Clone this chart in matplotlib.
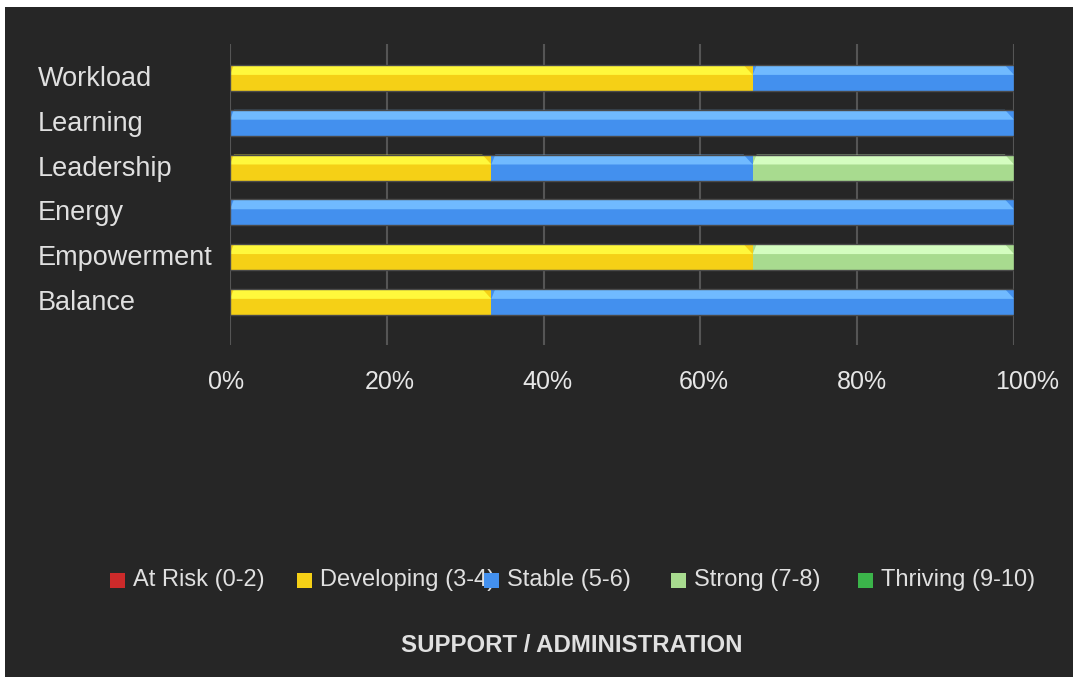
import matplotlib
matplotlib.use("Agg")
import matplotlib.pyplot as plt
from matplotlib.patches import Rectangle, Polygon
from matplotlib.transforms import ScaledTranslation
import numpy as np

plt.rcParams['font.family'] = ['Liberation Sans', 'DejaVu Sans']

# Responses per dimension (3 respondents), by score band
categories = ["Workload", "Learning", "Leadership", "Energy", "Empowerment", "Balance"]
bands = ["At Risk (0-2)", "Developing (3-4)", "Stable (5-6)", "Strong (7-8)", "Thriving (9-10)"]
at_risk    = [0, 0, 0, 0, 0, 0]
developing = [2, 0, 1, 0, 2, 1]
stable     = [1, 3, 1, 3, 0, 2]
strong     = [0, 0, 1, 0, 1, 0]
thriving   = [0, 0, 0, 0, 0, 0]
x_ticks = [0, 20, 40, 60, 80, 100]
x_tick_labels = ["0%", "20%", "40%", "60%", "80%", "100%"]
title = "SUPPORT / ADMINISTRATION"

base_colors = ["#CC2A2A", "#F5D016", "#4390EE", "#A8DB8F", "#3BB44A"]
light_colors = ["#E85050", "#FFF83C", "#70BAFF", "#D4FDC0", "#6FE07A"]

W, H = 1073, 677
fig = plt.figure(figsize=(W / 100, H / 100), dpi=100, facecolor="white")
bg = "#262626"
fig.patches.append(Rectangle((5 / W, 0), 1, 1 - 7 / H, transform=fig.transFigure,
                             facecolor=bg, edgecolor="none", zorder=-10))

ax = fig.add_axes([230 / W, 1 - 345 / H, (1014 - 230) / W, (345 - 44) / H])
ax.set_facecolor("none")
for s in ax.spines.values():
    s.set_visible(False)

counts = np.array([at_risk, developing, stable, strong, thriving], dtype=float)
totals = counts.sum(axis=0)
pct = counts / totals * 100

ypos = np.arange(len(categories))
bar_h = 0.58
strip_h = 0.22
inset_l = 0.5
inset_r = 1.15

left = np.zeros(len(categories))
for bi in range(len(bands)):
    vals = pct[bi]
    ax.barh(ypos, vals, left=left, height=bar_h, color=base_colors[bi],
            edgecolor="none", zorder=3)
    for yi, (l, v) in enumerate(zip(left, vals)):
        if v <= 0:
            continue
        top = yi - bar_h / 2
        poly = Polygon([(l, top + strip_h), (l + inset_l, top), (l + v - inset_r, top),
                        (l + v, top + strip_h)], closed=True,
                       facecolor=light_colors[bi], edgecolor="none", zorder=4)
        ax.add_patch(poly)
    left = left + vals

# thin outline around each full bar
for yi, tot in enumerate(left):
    ax.add_patch(Rectangle((0, yi - bar_h / 2), tot, bar_h, facecolor="none",
                           edgecolor="#4a4a4a", linewidth=1.0, zorder=5))

for xv in x_ticks:
    ax.axvline(xv, color="#555555", linewidth=1.5, zorder=1)

ax.set_xlim(0, 100)
ax.set_ylim(5.96, -0.76)
ax.set_xticks(x_ticks)
ax.set_xticklabels(x_tick_labels)
ax.set_yticks(ypos)
ax.set_yticklabels(categories)
ax.tick_params(axis="x", length=0, pad=18, labelsize=18, colors="#E6E6E6")
ax.tick_params(axis="y", length=0, pad=192 * 0.72, labelsize=19.5, colors="#E0E0E0")
for lab in ax.get_yticklabels():
    lab.set_horizontalalignment("left")
    lab.set_transform(lab.get_transform() + ScaledTranslation(0, 2 / 100, fig.dpi_scale_trans))

# horizontal nudges of the percentage labels, in pixels
label_shift = [-4, 3, 4, 3, 5, 13]
for lab, dx in zip(ax.get_xticklabels(), label_shift):
    lab.set_transform(lab.get_transform() + ScaledTranslation(dx / 100, 0, fig.dpi_scale_trans))

# legend with fixed spacing
leg_y = 1 - 580 / H
x0 = 110
step = 187
sq = 15
for i, (name, c) in enumerate(zip(bands, base_colors)):
    xs = x0 + i * step
    fig.patches.append(Rectangle((xs / W, leg_y - sq / 2 / H), sq / W, sq / H,
                                 transform=fig.transFigure, facecolor=c,
                                 edgecolor="none", zorder=6 - i * 0.1))
    fig.text((xs + sq + 8) / W, leg_y, name, ha="left", va="center",
             fontsize=17, color="#E0E0E0", zorder=5 - i)

fig.text(572 / W, 1 - 646 / H, title, ha="center", va="center", fontsize=17.3,
         fontweight="bold", color="#E0E0E0")

fig.savefig("out.png", dpi=100, facecolor=fig.get_facecolor())
